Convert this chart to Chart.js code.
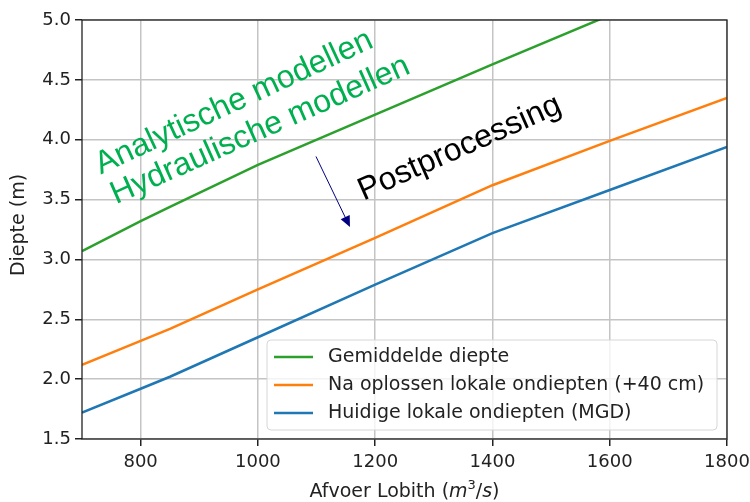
<!DOCTYPE html>
<html>
<head>
<meta charset="utf-8">
<script src="https://cdn.jsdelivr.net/npm/chart.js@4"></script>
<style>
  html, body { margin: 0; padding: 0; background: #fff; }
  #wrap { width: 750px; height: 502px; }
</style>
</head>
<body>
<div id="wrap"><canvas id="diepteChart" width="750" height="502"></canvas></div>
<script>
// discharge at Lobith (m3/s)
const afvoer = [700, 800, 850, 1000, 1200, 1400, 1600, 1800];
// depths (m)
const gemiddeldeDiepte = [3.07, 3.32, 3.44, 3.79, 4.21, 4.63, 5.04, 5.45];
const naOplossen = [2.12, 2.32, 2.42, 2.75, 3.18, 3.62, 3.99, 4.35];
const huidigeOndiepten = [1.72, 1.92, 2.02, 2.35, 2.79, 3.22, 3.58, 3.94];

const xTicks = [800, 1000, 1200, 1400, 1600, 1800];
const yTicks = [1.5, 2.0, 2.5, 3.0, 3.5, 4.0, 4.5, 5.0];

const labels = [
    'Gemiddelde diepte',
    'Na oplossen lokale ondiepten (+40 cm)',
    'Huidige lokale ondiepten (MGD)'
];
const colors = ['#2ca02c', '#ff7f0e', '#1f77b4'];

const tickFont = { family: 'DejaVu Sans', size: 18 };

function toPoints(ys) {
    return afvoer.map((x, i) => ({ x: x, y: ys[i] }));
}

// frame, legend, axis titles and the text annotations
const extras = {
    id: 'extras',
    afterDraw(chart) {
        const ctx = chart.ctx;
        const a = chart.chartArea;
        const xs = chart.scales.x, ys = chart.scales.y;

        // box around the plot
        ctx.save();
        ctx.strokeStyle = '#222';
        ctx.lineWidth = 1.3;
        ctx.strokeRect(a.left, a.top, a.right - a.left, a.bottom - a.top);

        // legend in lower right
        const lx = 267, ly = 340, lw = 450, lh = 90;
        ctx.beginPath();
        ctx.roundRect(lx, ly, lw, lh, 4);
        ctx.fillStyle = 'rgba(255,255,255,0.8)';
        ctx.fill();
        ctx.strokeStyle = '#d6d6d6';
        ctx.lineWidth = 1;
        ctx.stroke();
        ctx.font = '19px "DejaVu Sans"';
        ctx.textBaseline = 'middle';
        ctx.fillStyle = '#222';
        labels.forEach((t, i) => {
            const yy = ly + 17 + i * 28;
            ctx.beginPath();
            ctx.moveTo(lx + 7, yy);
            ctx.lineTo(lx + 46, yy);
            ctx.strokeStyle = colors[i];
            ctx.lineWidth = 2.5;
            ctx.stroke();
            ctx.fillText(t, lx + 61, yy);
        });

        // y title
        ctx.save();
        ctx.translate(19, 225);
        ctx.rotate(-Math.PI / 2);
        ctx.textAlign = 'center';
        ctx.fillText('Diepte (m)', 0, 0);
        ctx.restore();

        // x title with italic units
        const parts = [
            ['Afvoer Lobith (', '19px "DejaVu Sans"', 0],
            ['m', 'italic 19px "DejaVu Sans"', 0],
            ['3', '13px "DejaVu Sans"', -8],
            ['/', '19px "DejaVu Sans"', 0],
            ['s', 'italic 19px "DejaVu Sans"', 0],
            [')', '19px "DejaVu Sans"', 0]
        ];
        let total = 0;
        parts.forEach(p => { ctx.font = p[1]; total += ctx.measureText(p[0]).width; });
        let cx = (a.left + a.right) / 2 - total / 2;
        ctx.textBaseline = 'alphabetic';
        parts.forEach(p => {
            ctx.font = p[1];
            ctx.fillText(p[0], cx, 497 + p[2]);
            cx += ctx.measureText(p[0]).width;
        });

        // rotated annotations (anchored in data units)
        function rotText(txt, xv, yv, angle, color, size) {
            ctx.save();
            ctx.translate(xs.getPixelForValue(xv), ys.getPixelForValue(yv));
            ctx.rotate(-angle * Math.PI / 180);
            ctx.font = size + 'px "Liberation Sans"';
            ctx.fillStyle = color;
            ctx.textAlign = 'left';
            ctx.textBaseline = 'alphabetic';
            ctx.fillText(txt, 0, 0);
            ctx.restore();
        }
        rotText('Analytische modellen', 732, 3.71, 25, '#00b050', 32);
        rotText('Hydraulische modellen', 758, 3.46, 24, '#00b050', 32);
        rotText('Postprocessing', 1180, 3.49, 24, '#000', 32);

        // arrow
        const x1 = xs.getPixelForValue(1099), y1 = ys.getPixelForValue(3.86);
        const x2 = xs.getPixelForValue(1157), y2 = ys.getPixelForValue(3.27);
        const ang = Math.atan2(y2 - y1, x2 - x1);
        ctx.strokeStyle = '#000080';
        ctx.fillStyle = '#000080';
        ctx.lineWidth = 1;
        ctx.beginPath();
        ctx.moveTo(x1, y1);
        ctx.lineTo(x2 - 8 * Math.cos(ang), y2 - 8 * Math.sin(ang));
        ctx.stroke();
        ctx.beginPath();
        ctx.moveTo(x2, y2);
        ctx.lineTo(x2 - 11 * Math.cos(ang) + 5 * Math.sin(ang), y2 - 11 * Math.sin(ang) - 5 * Math.cos(ang));
        ctx.lineTo(x2 - 11 * Math.cos(ang) - 5 * Math.sin(ang), y2 - 11 * Math.sin(ang) + 5 * Math.cos(ang));
        ctx.closePath();
        ctx.fill();
        ctx.restore();
    }
};

new Chart(document.getElementById('diepteChart'), {
    type: 'line',
    data: {
        datasets: [
            { label: labels[0], data: toPoints(gemiddeldeDiepte), borderColor: colors[0] },
            { label: labels[1], data: toPoints(naOplossen), borderColor: colors[1] },
            { label: labels[2], data: toPoints(huidigeOndiepten), borderColor: colors[2] }
        ]
    },
    options: {
        responsive: false,
        animation: false,
        layout: { padding: { top: 20, right: 23, left: 0, bottom: 0 } },
        elements: {
            point: { radius: 0 },
            line: { borderWidth: 2.5, tension: 0, fill: false }
        },
        plugins: {
            legend: { display: false },
            tooltip: { enabled: false }
        },
        scales: {
            x: {
                type: 'linear',
                min: 700,
                max: 1800,
                afterBuildTicks: s => { s.ticks = xTicks.map(v => ({ value: v })); },
                afterFit: s => { s.height = 63; s.paddingRight = 0; s.paddingLeft = 0; },
                ticks: { font: tickFont, color: '#222', padding: 6, maxRotation: 0, callback: v => String(v) },
                grid: { color: '#c4c4c4', lineWidth: 1.5, tickColor: '#222', tickLength: 7 },
                border: { display: false }
            },
            y: {
                min: 1.5,
                max: 5.0,
                afterBuildTicks: s => { s.ticks = yTicks.map(v => ({ value: v })); },
                afterFit: s => { s.width = 82; s.paddingTop = 0; s.paddingBottom = 0; },
                ticks: { font: tickFont, color: '#222', padding: 4, callback: v => v.toFixed(1) },
                grid: { color: '#c4c4c4', lineWidth: 1.5, tickColor: '#222', tickLength: 7 },
                border: { display: false }
            }
        }
    },
    plugins: [extras]
});
</script>
</body>
</html>
